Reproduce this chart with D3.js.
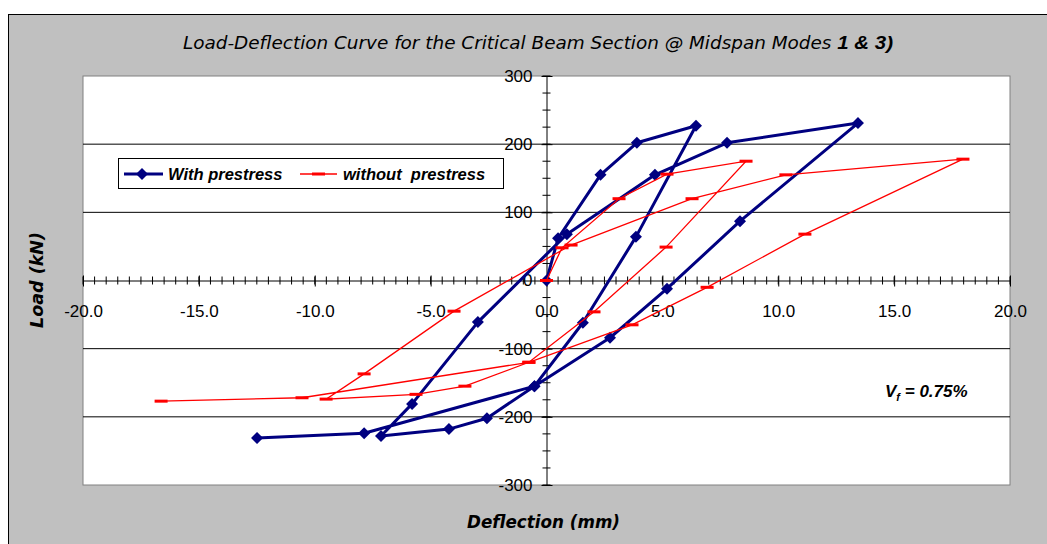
<!DOCTYPE html>
<html>
<head>
<meta charset="utf-8">
<script src="https://cdn.jsdelivr.net/npm/d3@7"></script>
<style>
  body { margin: 0; background: #fff; }
  svg { display: block; }
</style>
</head>
<body>
<script>
"use strict";
(function(){
    // data: deflection (mm) and load (kN), in loading order
    const withDeflection = [0, 0.50, 2.33, 3.90, 6.45, 3.86, 1.57, -0.52, -2.57, -4.21, -7.14, -5.80, -2.96, 0.88, 4.68, 7.79, 13.44, 8.35, 5.20, 2.74, -0.52, -7.87, -12.49]
    const withLoad = [0, 62, 155, 202, 227, 64, -62, -155, -202, -218, -228, -181, -61, 68, 155, 202, 231, 87, -12, -84, -155, -224, -231]
    const withoutDeflection = [0, 0.67, 3.13, 5.20, 8.61, 5.16, 2.05, -0.76, -3.52, -5.63, -9.51, -7.87, -3.99, 1.06, 6.28, 10.33, 17.97, 11.15, 6.93, 3.69, -0.76, -10.55, -16.63]
    const withoutLoad = [0, 48, 120, 156, 175, 49, -46, -120, -155, -167, -174, -137, -45, 52, 120, 155, 178, 68, -10, -65, -120, -172, -177]
    const seriesNames = ["With prestress", "without  prestress"]
    const xTicks = [-20, -15, -10, -5, 0, 5, 10, 15, 20]
    const yTicks = [-300, -200, -100, 0, 100, 200, 300]
    const gridLoads = [-200, -100, 100, 200]

    // dimensions
    const measurements = {
        width: 1047,
        height: 544,
        plotLeft: 83,
        plotRight: 1010,
        plotTop: 76,
        plotBottom: 485
    }
    const axisFont = "'Liberation Sans', Arial, sans-serif"
    const titleFont = "'DejaVu Sans Condensed', 'DejaVu Sans', sans-serif"

    // excel style numbers use a plain hyphen for the sign
    const hyphen = f => (d => f(d).replace("\u2212", "-"))

    const svg = d3.select("body").append("svg")
        .attr("width", measurements.width)
        .attr("height", measurements.height)

    // chart background
    svg.append("rect")
        .attr("x", 8.5).attr("y", 14.5)
        .attr("width", measurements.width)
        .attr("height", measurements.height)
        .attr("fill", "#c0c0c0")
        .attr("stroke", "#000")

    const x = d3.scaleLinear()
        .domain([-20, 20])
        .range([measurements.plotLeft, measurements.plotRight])
    const y = d3.scaleLinear()
        .domain([-300, 300])
        .range([measurements.plotBottom, measurements.plotTop])

    // plot area
    svg.append("rect")
        .attr("x", measurements.plotLeft)
        .attr("y", measurements.plotTop)
        .attr("width", measurements.plotRight - measurements.plotLeft)
        .attr("height", measurements.plotBottom - measurements.plotTop)
        .attr("fill", "#fff")
        .attr("stroke", "#808080")

    // horizontal gridlines
    svg.append("g").selectAll("line")
        .data(gridLoads)
        .enter()
        .append("line")
            .attr("x1", measurements.plotLeft)
            .attr("x2", measurements.plotRight)
            .attr("y1", d => y(d))
            .attr("y2", d => y(d))
            .attr("stroke", "#000")
            .attr("stroke-width", 1)

    // x axis through load = 0
    const xAxisG = svg.append("g")
        .attr("transform", "translate(0," + y(0) + ")")
        .call(d3.axisBottom(x)
            .tickValues(xTicks)
            .tickFormat(hyphen(d3.format(".1f")))
            .tickSizeOuter(0))
    xAxisG.select(".domain").attr("stroke", "#000")
    xAxisG.selectAll(".tick line").attr("y1", -5).attr("y2", 6).attr("stroke", "#000")
    xAxisG.selectAll(".tick text")
        .attr("y", 24)
        .attr("dy", "0.71em")
        .attr("fill", "#000")
        .style("font-family", axisFont)
        .style("font-size", "17px")
    xAxisG.selectAll(".minor")
        .data(d3.range(-20, 20.001, 0.5))
        .enter()
        .append("line")
            .attr("class", "minor")
            .attr("x1", d => x(d)).attr("x2", d => x(d))
            .attr("y1", -4).attr("y2", 4)
            .attr("stroke", "#000")

    // y axis through deflection = 0
    const yAxisG = svg.append("g")
        .attr("transform", "translate(" + x(0) + ",0)")
        .call(d3.axisLeft(y)
            .tickValues(yTicks)
            .tickFormat(hyphen(d3.format("d")))
            .tickSizeOuter(0))
    yAxisG.select(".domain").attr("stroke", "#000")
    yAxisG.selectAll(".tick line").attr("x1", -5).attr("x2", 6).attr("stroke", "#000")
    yAxisG.selectAll(".tick text")
        .attr("x", -14)
        .attr("fill", "#000")
        .style("font-family", axisFont)
        .style("font-size", "17px")
    yAxisG.selectAll(".minor")
        .data(d3.range(-300, 300.001, 25))
        .enter()
        .append("line")
            .attr("class", "minor")
            .attr("y1", d => y(d)).attr("y2", d => y(d))
            .attr("x1", -4).attr("x2", 4)
            .attr("stroke", "#000")

    const line = d3.line()
        .x(d => x(d[0]))
        .y(d => y(d[1]))
    const diamond = d3.symbol().type(d3.symbolSquare).size(72)

    // with prestress: navy line, diamond markers
    const withPoints = d3.zip(withDeflection, withLoad)
    svg.append("path")
        .datum(withPoints)
        .attr("d", line)
        .attr("fill", "none")
        .attr("stroke", "#000080")
        .attr("stroke-width", 3)
        .attr("stroke-linejoin", "round")
    svg.append("g").selectAll("path")
        .data(withPoints)
        .enter()
        .append("path")
            .attr("d", diamond)
            .attr("transform", d => "translate(" + x(d[0]) + "," + y(d[1]) + ")rotate(45)")
            .attr("fill", "#000080")

    // without prestress: red thin line, dash markers
    const withoutPoints = d3.zip(withoutDeflection, withoutLoad)
    svg.append("path")
        .datum(withoutPoints)
        .attr("d", line)
        .attr("fill", "none")
        .attr("stroke", "#ff0000")
        .attr("stroke-width", 1.3)
    svg.append("g").selectAll("rect")
        .data(withoutPoints)
        .enter()
        .append("rect")
            .attr("x", d => x(d[0]) - 6.5)
            .attr("y", d => y(d[1]) - 1.5)
            .attr("width", 13)
            .attr("height", 3)
            .attr("fill", "#ff0000")

    // legend
    const legend = svg.append("g")
    legend.append("rect")
        .attr("x", 118.5).attr("y", 158.5)
        .attr("width", 385).attr("height", 30)
        .attr("fill", "#fff")
        .attr("stroke", "#000")
    legend.append("line")
        .attr("x1", 124).attr("x2", 163).attr("y1", 174).attr("y2", 174)
        .attr("stroke", "#000080").attr("stroke-width", 3)
    legend.append("path")
        .attr("d", diamond)
        .attr("transform", "translate(142,174)rotate(45)")
        .attr("fill", "#000080")
    legend.append("line")
        .attr("x1", 300).attr("x2", 337).attr("y1", 174).attr("y2", 174)
        .attr("stroke", "#ff0000").attr("stroke-width", 1.3)
    legend.append("rect")
        .attr("x", 312).attr("y", 172.5).attr("width", 13).attr("height", 3)
        .attr("fill", "#ff0000")
    legend.selectAll("text")
        .data(seriesNames)
        .enter()
        .append("text")
            .attr("x", (d, i) => i === 0 ? 168 : 343)
            .attr("y", 180)
            .attr("xml:space", "preserve")
            .style("font-family", axisFont)
            .style("font-size", "16.5px")
            .style("font-weight", "bold")
            .style("font-style", "italic")
            .text(d => d)

    // title and axis labels
    const title = svg.append("text")
        .attr("x", 183)
        .attr("y", 49)
        .attr("textLength", 710)
        .attr("lengthAdjust", "spacingAndGlyphs")
        .style("font-family", titleFont)
        .style("font-size", "18px")
        .style("font-style", "italic")
    title.append("tspan").text("Load-Deflection Curve for the Critical Beam Section @ Midspan Modes ")
    title.append("tspan")
        .style("font-family", axisFont)
        .style("font-weight", "bold")
        .text("1 & 3)")

    svg.append("text")
        .attr("x", 467)
        .attr("y", 528)
        .attr("textLength", 153)
        .attr("lengthAdjust", "spacingAndGlyphs")
        .style("font-family", titleFont)
        .style("font-size", "18px")
        .style("font-style", "italic")
        .style("font-weight", "bold")
        .text("Deflection (mm)")

    svg.append("text")
        .attr("transform", "translate(43,328)rotate(-90)")
        .attr("textLength", 96)
        .attr("lengthAdjust", "spacingAndGlyphs")
        .style("font-family", titleFont)
        .style("font-size", "18px")
        .style("font-style", "italic")
        .style("font-weight", "bold")
        .text("Load (kN)")

    // fibre volume note
    const note = svg.append("text")
        .attr("x", 885)
        .attr("y", 397)
        .style("font-family", axisFont)
        .style("font-size", "17px")
        .style("font-weight", "bold")
        .style("font-style", "italic")
    note.append("tspan").text("V")
    note.append("tspan").attr("dy", 4).style("font-size", "11px").text("f")
    note.append("tspan").attr("dy", -4).text(" = 0.75%")
})()
</script>
</body>
</html>
